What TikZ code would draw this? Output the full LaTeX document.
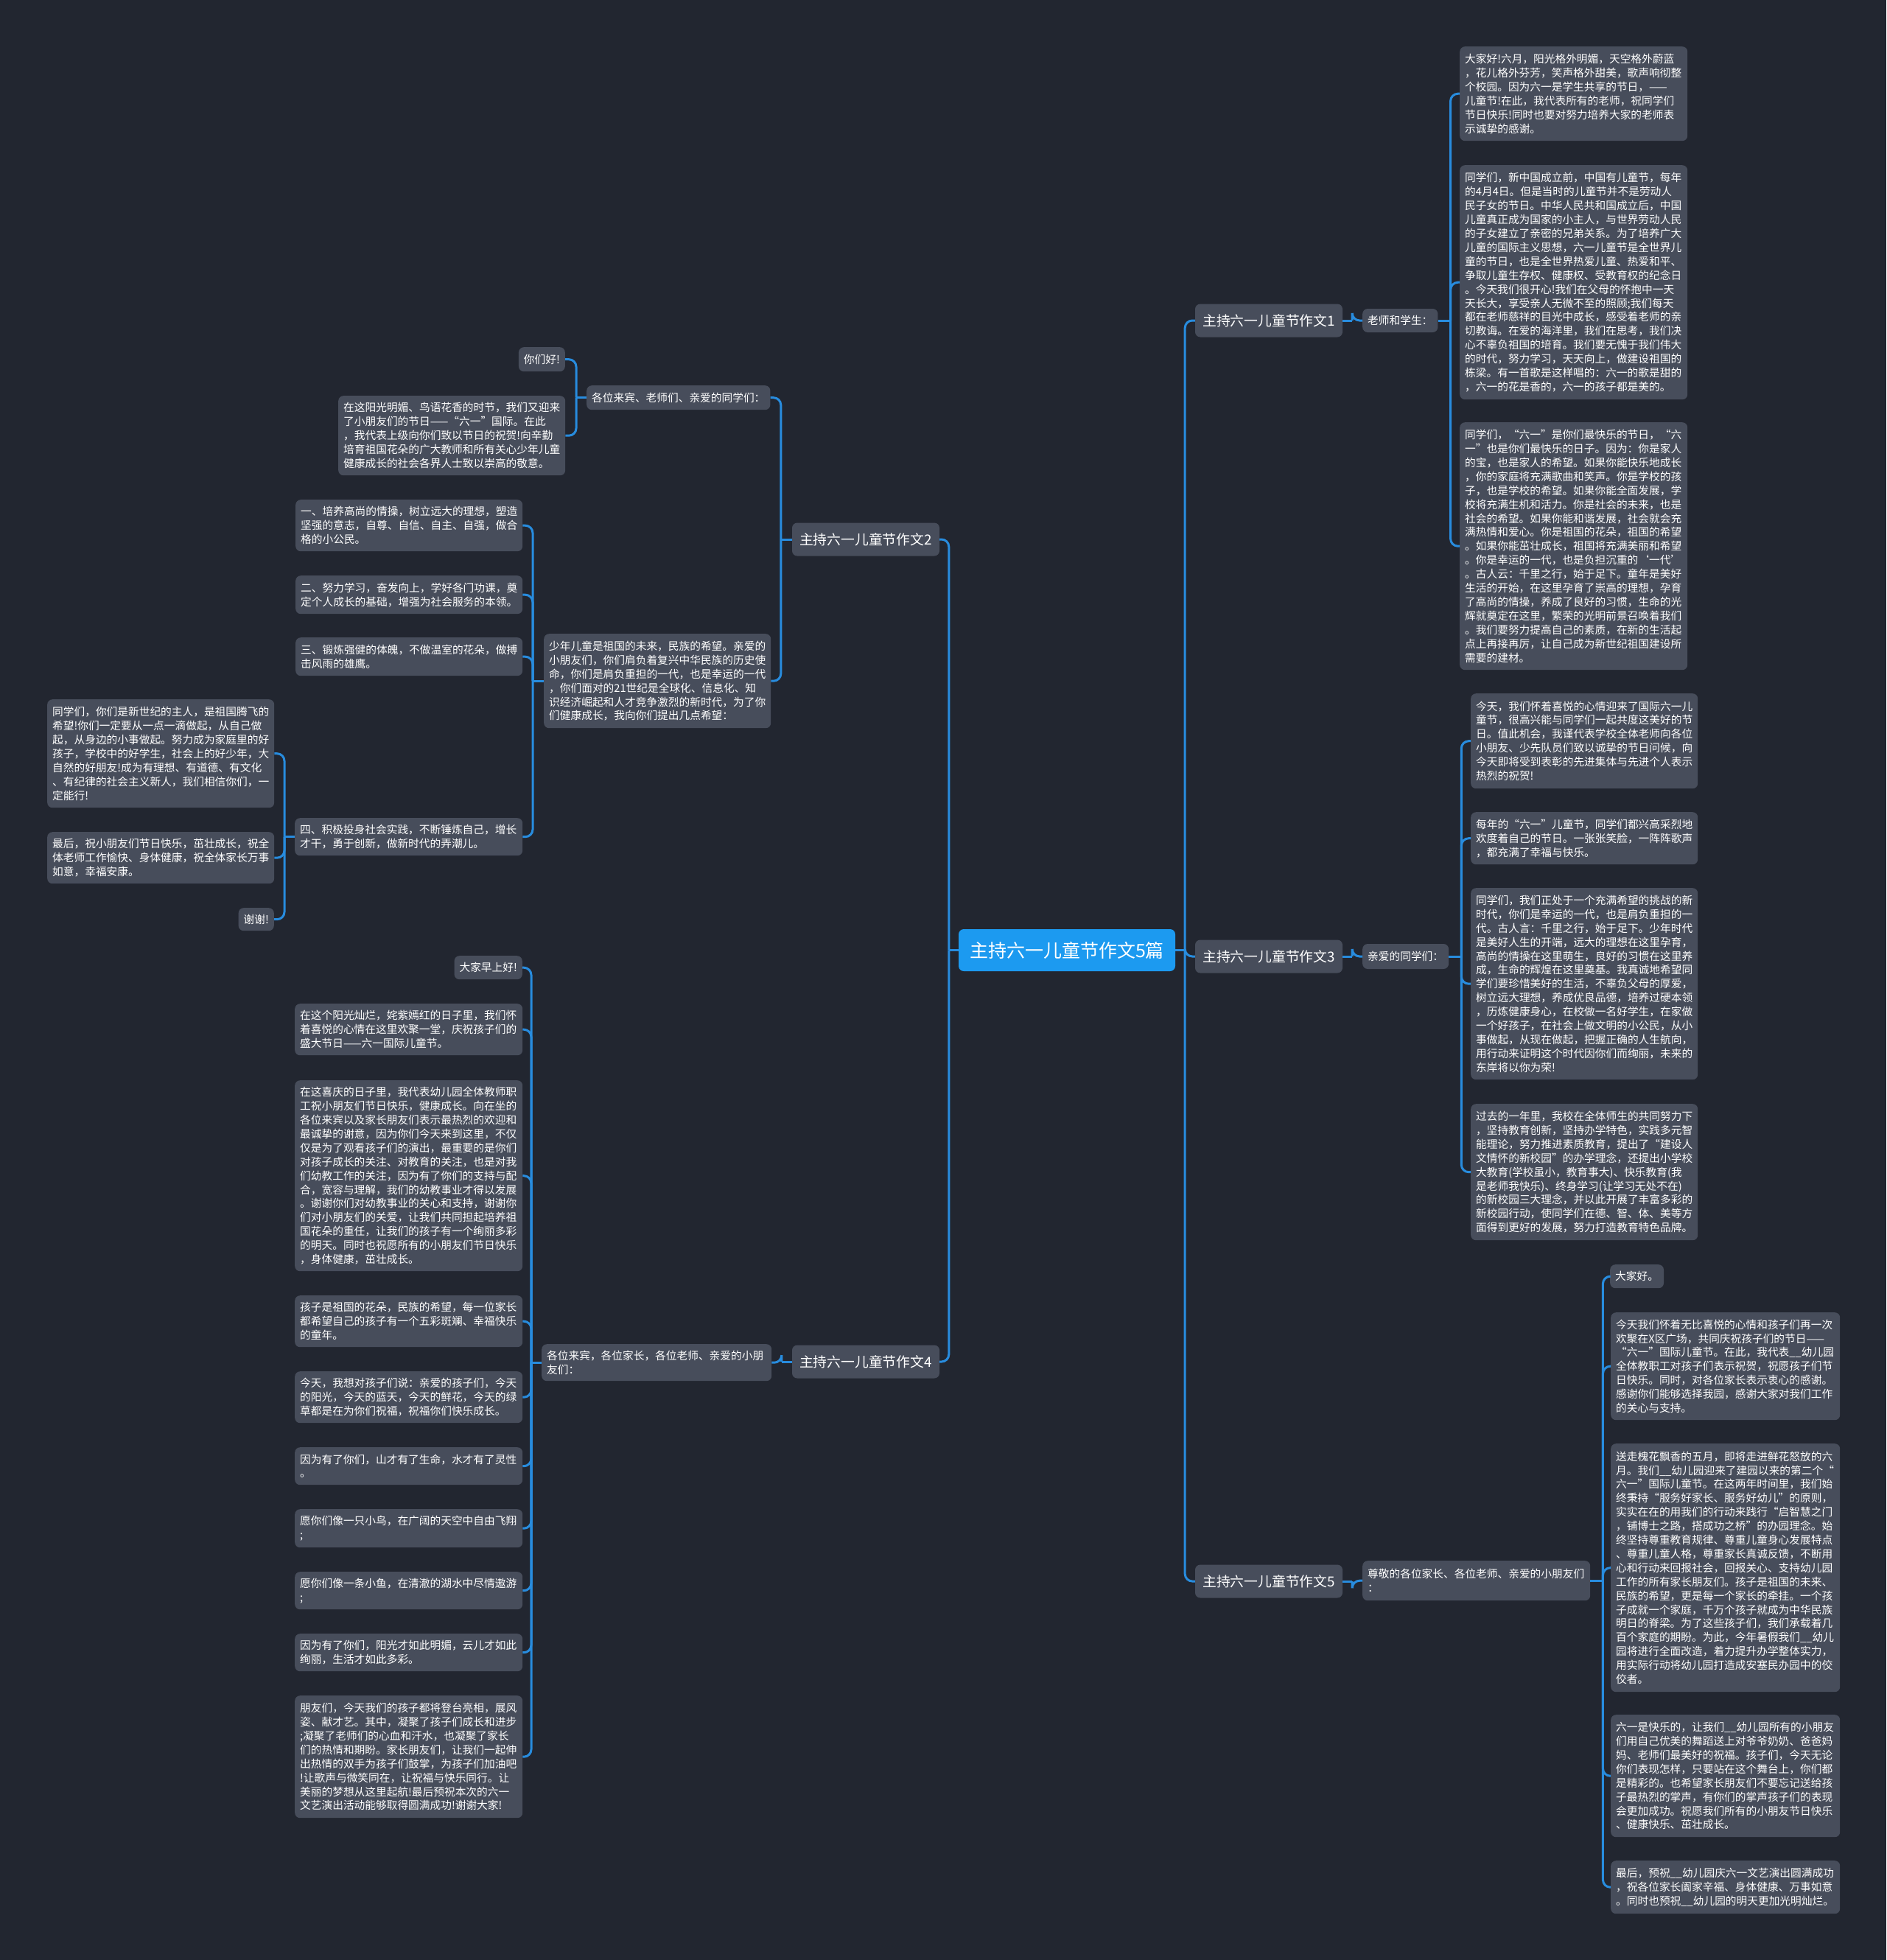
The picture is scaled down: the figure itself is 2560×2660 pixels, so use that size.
\documentclass[tikz,border=0pt]{standalone}
\usepackage{fontspec}
\setmainfont{Noto Sans CJK SC}
\definecolor{bg}{RGB}{34,38,48}
\definecolor{boxc}{RGB}{71,77,91}
\definecolor{linec}{RGB}{40,140,222}
\definecolor{rootc}{RGB}{28,154,240}
\tikzset{
 tbox/.style={fill=boxc, rounded corners=7pt, text=white, align=left, inner xsep=7pt, inner ysep=0pt, font=\fontsize{14.7}{18.9}\selectfont},
 sbox/.style={fill=boxc, rounded corners=7pt, text=white, inner xsep=7pt, inner ysep=0pt, font=\fontsize{14.7}{18.9}\selectfont},
 lone/.style={fill=boxc, rounded corners=7pt, text=white, inner sep=0pt, minimum width=200pt, minimum height=45pt, font=\fontsize{18.8}{22}\selectfont},
 rootbox/.style={fill=rootc, rounded corners=7pt, text=white, inner sep=0pt, minimum width=294pt, minimum height=57pt, font=\fontsize{25}{30}\selectfont},
 conn/.style={draw=linec, line width=3pt},
}
\newcommand\bx[6]{\node[tbox, text width=#4pt, minimum height=#5pt, anchor=north west] (#1) at (#2,#3) {#6};}
\newcommand\conR[3]{\draw[conn] (#1.east) -- ([xshift=#3pt]#1.east); \draw[conn, rounded corners=10pt] ([xshift=#3pt]#1.east) |- (#2.west);}
\newcommand\conL[3]{\draw[conn] (#1.west) -- ([xshift=-#3pt]#1.west); \draw[conn, rounded corners=10pt] ([xshift=-#3pt]#1.west) |- (#2.east);}
\begin{document}
\begin{tikzpicture}[x=1pt,y=-1pt]
\fill[bg] (0,0) rectangle (2560,2660);
\useasboundingbox (0,0) rectangle (2560,2660);

% root and level 1
\node[rootbox] (root) at (1448,1289.5) {主持六一儿童节作文5篇};
\node[lone] (T1) at (1722,435) {主持六一儿童节作文1};
\node[lone] (T2) at (1175,732) {主持六一儿童节作文2};
\node[lone] (T3) at (1722,1298) {主持六一儿童节作文3};
\node[lone] (T4) at (1175,1848) {主持六一儿童节作文4};
\node[lone] (T5) at (1722,2146) {主持六一儿童节作文5};

% ---------- branch 1 ----------
\node[sbox, minimum height=32pt, anchor=west] (S1) at (1849,435) {老师和学生：};
\bx{R1a}{1981}{63}{295}{128}{大家好!六月，阳光格外明媚，天空格外蔚蓝\\，花儿格外芬芳，笑声格外甜美，歌声响彻整\\个校园。因为六一是学生共享的节日，——\\儿童节!在此，我代表所有的老师，祝同学们\\节日快乐!同时也要对努力培养大家的老师表\\示诚挚的感谢。}
\bx{R1b}{1981}{224}{295}{318}{同学们，新中国成立前，中国有儿童节，每年\\的4月4日。但是当时的儿童节并不是劳动人\\民子女的节日。中华人民共和国成立后，中国\\儿童真正成为国家的小主人，与世界劳动人民\\的子女建立了亲密的兄弟关系。为了培养广大\\儿童的国际主义思想，六一儿童节是全世界儿\\童的节日，也是全世界热爱儿童、热爱和平、\\争取儿童生存权、健康权、受教育权的纪念日\\。今天我们很开心!我们在父母的怀抱中一天\\天长大，享受亲人无微不至的照顾;我们每天\\都在老师慈祥的目光中成长，感受着老师的亲\\切教诲。在爱的海洋里，我们在思考，我们决\\心不辜负祖国的培育。我们要无愧于我们伟大\\的时代，努力学习，天天向上，做建设祖国的\\栋梁。有一首歌是这样唱的：六一的歌是甜的\\，六一的花是香的，六一的孩子都是美的。}
\bx{R1c}{1981}{573}{295}{336}{同学们，“六一”是你们最快乐的节日，“六\\一”也是你们最快乐的日子。因为：你是家人\\的宝，也是家人的希望。如果你能快乐地成长\\，你的家庭将充满歌曲和笑声。你是学校的孩\\子，也是学校的希望。如果你能全面发展，学\\校将充满生机和活力。你是社会的未来，也是\\社会的希望。如果你能和谐发展，社会就会充\\满热情和爱心。你是祖国的花朵，祖国的希望\\。如果你能茁壮成长，祖国将充满美丽和希望\\。你是幸运的一代，也是负担沉重的‘一代’\\。古人云：千里之行，始于足下。童年是美好\\生活的开始，在这里孕育了崇高的理想，孕育\\了高尚的情操，养成了良好的习惯，生命的光\\辉就奠定在这里，繁荣的光明前景召唤着我们\\。我们要努力提高自己的素质，在新的生活起\\点上再接再厉，让自己成为新世纪祖国建设所\\需要的建材。}

% ---------- branch 3 ----------
\node[sbox, minimum height=34pt, anchor=west] (S3) at (1849,1298) {亲爱的同学们：};
\bx{R3a}{1996}{941}{294}{129}{今天，我们怀着喜悦的心情迎来了国际六一儿\\童节，很高兴能与同学们一起共度这美好的节\\日。值此机会，我谨代表学校全体老师向各位\\小朋友、少先队员们致以诚挚的节日问候，向\\今天即将受到表彰的先进集体与先进个人表示\\热烈的祝贺!}
\bx{R3b}{1996}{1102}{294}{71}{每年的“六一”儿童节，同学们都兴高采烈地\\欢度着自己的节日。一张张笑脸，一阵阵歌声\\，都充满了幸福与快乐。}
\bx{R3c}{1996}{1205}{294}{260}{同学们，我们正处于一个充满希望的挑战的新\\时代，你们是幸运的一代，也是肩负重担的一\\代。古人言：千里之行，始于足下。少年时代\\是美好人生的开端，远大的理想在这里孕育，\\高尚的情操在这里萌生，良好的习惯在这里养\\成，生命的辉煌在这里奠基。我真诚地希望同\\学们要珍惜美好的生活，不辜负父母的厚爱，\\树立远大理想，养成优良品德，培养过硬本领\\，历炼健康身心，在校做一名好学生，在家做\\一个好孩子，在社会上做文明的小公民，从小\\事做起，从现在做起，把握正确的人生航向，\\用行动来证明这个时代因你们而绚丽，未来的\\东岸将以你为荣!}
\bx{R3d}{1996}{1498}{294}{185}{过去的一年里，我校在全体师生的共同努力下\\，坚持教育创新，坚持办学特色，实践多元智\\能理论，努力推进素质教育，提出了“建设人\\文情怀的新校园”的办学理念，还提出小学校\\大教育(学校虽小，教育事大)、快乐教育(我\\是老师我快乐)、终身学习(让学习无处不在)\\的新校园三大理念，并以此开展了丰富多彩的\\新校园行动，使同学们在德、智、体、美等方\\面得到更好的发展，努力打造教育特色品牌。}

% ---------- branch 5 ----------
\bx{S5}{1849}{2118}{295}{54}{尊敬的各位家长、各位老师、亲爱的小朋友们\\：}
\node[sbox, minimum height=32pt, anchor=north west] (R5a) at (2185,1716) {大家好。};
\bx{R5b}{2186}{1781}{297}{146}{今天我们怀着无比喜悦的心情和孩子们再一次\\欢聚在X区广场，共同庆祝孩子们的节日——\\“六一”国际儿童节。在此，我代表\_\_幼儿园\\全体教职工对孩子们表示祝贺，祝愿孩子们节\\日快乐。同时，对各位家长表示衷心的感谢。\\感谢你们能够选择我园，感谢大家对我们工作\\的关心与支持。}
\bx{R5c}{2186}{1959}{297}{337}{送走槐花飘香的五月，即将走进鲜花怒放的六\\月。我们\_\_幼儿园迎来了建园以来的第二个“\\六一”国际儿童节。在这两年时间里，我们始\\终秉持“服务好家长、服务好幼儿”的原则，\\实实在在的用我们的行动来践行“启智慧之门\\，铺博士之路，搭成功之桥”的办园理念。始\\终坚持尊重教育规律、尊重儿童身心发展特点\\、尊重儿童人格，尊重家长真诚反馈，不断用\\心和行动来回报社会，回报关心、支持幼儿园\\工作的所有家长朋友们。孩子是祖国的未来、\\民族的希望，更是每一个家长的牵挂。一个孩\\子成就一个家庭，千万个孩子就成为中华民族\\明日的脊梁。为了这些孩子们，我们承载着几\\百个家庭的期盼。为此，今年暑假我们\_\_幼儿\\园将进行全面改造，着力提升办学整体实力，\\用实际行动将幼儿园打造成安塞民办园中的佼\\佼者。}
\bx{R5d}{2186}{2327}{297}{166}{六一是快乐的，让我们\_\_幼儿园所有的小朋友\\们用自己优美的舞蹈送上对爷爷奶奶、爸爸妈\\妈、老师们最美好的祝福。孩子们，今天无论\\你们表现怎样，只要站在这个舞台上，你们都\\是精彩的。也希望家长朋友们不要忘记送给孩\\子最热烈的掌声，有你们的掌声孩子们的表现\\会更加成功。祝愿我们所有的小朋友节日快乐\\、健康快乐、茁壮成长。}
\bx{R5e}{2186}{2525}{297}{72}{最后，预祝\_\_幼儿园庆六一文艺演出圆满成功\\，祝各位家长阖家辛福、身体健康、万事如意\\。同时也预祝\_\_幼儿园的明天更加光明灿烂。}

% ---------- branch 2 ----------
\node[sbox, minimum height=33pt, anchor=north west] (Lg) at (796,523) {各位来宾、老师们、亲爱的同学们：};
\node[sbox, minimum height=33pt, anchor=north east] (Lh) at (767,471) {你们好!};
\bx{Ls}{459}{537}{294}{108}{在这阳光明媚、鸟语花香的时节，我们又迎来\\了小朋友们的节日——“六一”国际。在此\\，我代表上级向你们致以节日的祝贺!向辛勤\\培育祖国花朵的广大教师和所有关心少年儿童\\健康成长的社会各界人士致以崇高的敬意。}
\bx{Lk}{738}{860}{294}{128}{少年儿童是祖国的未来，民族的希望。亲爱的\\小朋友们，你们肩负着复兴中华民族的历史使\\命，你们是肩负重担的一代，也是幸运的一代\\，你们面对的21世纪是全球化、信息化、知\\识经济崛起和人才竞争激烈的新时代，为了你\\们健康成长，我向你们提出几点希望：}
\bx{L1}{401}{678}{294}{70}{一、培养高尚的情操，树立远大的理想，塑造\\坚强的意志，自尊、自信、自主、自强，做合\\格的小公民。}
\bx{L2}{401}{781}{294}{52}{二、努力学习，奋发向上，学好各门功课，奠\\定个人成长的基础，增强为社会服务的本领。}
\bx{L3}{401}{865}{294}{52}{三、锻炼强健的体魄，不做温室的花朵，做搏\\击风雨的雄鹰。}
\bx{L4}{400}{1110}{295}{51}{四、积极投身社会实践，不断锤炼自己，增长\\才干，勇于创新，做新时代的弄潮儿。}
\bx{L4a}{64}{949}{294}{147}{同学们，你们是新世纪的主人，是祖国腾飞的\\希望!你们一定要从一点一滴做起，从自己做\\起，从身边的小事做起。努力成为家庭里的好\\孩子，学校中的好学生，社会上的好少年，大\\自然的好朋友!成为有理想、有道德、有文化\\、有纪律的社会主义新人，我们相信你们，一\\定能行!}
\bx{L4b}{64}{1129}{294}{70}{最后，祝小朋友们节日快乐，茁壮成长，祝全\\体老师工作愉快、身体健康，祝全体家长万事\\如意，幸福安康。}
\node[sbox, minimum height=31pt, anchor=north east] (L4c) at (372,1232) {谢谢!};

% ---------- branch 4 ----------
\bx{Mg}{735}{1824}{298}{50}{各位来宾，各位家长，各位老师、亲爱的小朋\\友们：}
\node[sbox, minimum height=32pt, anchor=north east] (M0) at (709,1297) {大家早上好!};
\bx{M1}{400}{1362}{295}{70}{在这个阳光灿烂，姹紫嫣红的日子里，我们怀\\着喜悦的心情在这里欢聚一堂，庆祝孩子们的\\盛大节日——六一国际儿童节。}
\bx{M2}{400}{1466}{295}{259}{在这喜庆的日子里，我代表幼儿园全体教师职\\工祝小朋友们节日快乐，健康成长。向在坐的\\各位来宾以及家长朋友们表示最热烈的欢迎和\\最诚挚的谢意，因为你们今天来到这里，不仅\\仅是为了观看孩子们的演出，最重要的是你们\\对孩子成长的关注、对教育的关注，也是对我\\们幼教工作的关注，因为有了你们的支持与配\\合，宽容与理解，我们的幼教事业才得以发展\\。谢谢你们对幼教事业的关心和支持，谢谢你\\们对小朋友们的关爱，让我们共同担起培养祖\\国花朵的重任，让我们的孩子有一个绚丽多彩\\的明天。同时也祝愿所有的小朋友们节日快乐\\，身体健康，茁壮成长。}
\bx{M3}{400}{1758}{295}{70}{孩子是祖国的花朵，民族的希望，每一位家长\\都希望自己的孩子有一个五彩斑斓、幸福快乐\\的童年。}
\bx{M4}{400}{1861}{295}{70}{今天，我想对孩子们说：亲爱的孩子们，今天\\的阳光，今天的蓝天，今天的鲜花，今天的绿\\草都是在为你们祝福，祝福你们快乐成长。}
\bx{M5}{400}{1964}{295}{51}{因为有了你们，山才有了生命，水才有了灵性\\。}
\bx{M6}{400}{2048}{295}{52}{愿你们像一只小鸟，在广阔的天空中自由飞翔\\;}
\bx{M7}{400}{2133}{295}{51}{愿你们像一条小鱼，在清澈的湖水中尽情遨游\\;}
\bx{M8}{400}{2217}{295}{51}{因为有了你们，阳光才如此明媚，云儿才如此\\绚丽，生活才如此多彩。}
\bx{M9}{400}{2301}{295}{166}{朋友们，今天我们的孩子都将登台亮相，展风\\姿、献才艺。其中，凝聚了孩子们成长和进步\\;凝聚了老师们的心血和汗水，也凝聚了家长\\们的热情和期盼。家长朋友们，让我们一起伸\\出热情的双手为孩子们鼓掌，为孩子们加油吧\\!让歌声与微笑同在，让祝福与快乐同行。让\\美丽的梦想从这里起航!最后预祝本次的六一\\文艺演出活动能够取得圆满成功!谢谢大家!}

% ---------- connectors ----------
\conR{root}{T1}{13} \conR{root}{T3}{13} \conR{root}{T5}{13}
\conL{root}{T2}{13} \conL{root}{T4}{13}
\conR{T1}{S1}{13} \conR{T3}{S3}{13} \conR{T5}{S5}{13}
\conR{S1}{R1a}{17} \conR{S1}{R1b}{17} \conR{S1}{R1c}{17}
\conR{S3}{R3a}{17} \conR{S3}{R3b}{17} \conR{S3}{R3c}{17} \conR{S3}{R3d}{17}
\conR{S5}{R5a}{17} \conR{S5}{R5b}{17} \conR{S5}{R5c}{17} \conR{S5}{R5d}{17} \conR{S5}{R5e}{17}
\conL{T2}{Lg}{15} \conL{T2}{Lk}{15}
\conL{Lg}{Lh}{14} \conL{Lg}{Ls}{14}
\conL{Lk}{L1}{15} \conL{Lk}{L2}{15} \conL{Lk}{L3}{15} \conL{Lk}{L4}{15}
\conL{L4}{L4a}{14} \conL{L4}{L4b}{14} \conL{L4}{L4c}{14}
\conL{T4}{Mg}{14}
\conL{Mg}{M0}{14} \conL{Mg}{M1}{14} \conL{Mg}{M2}{14} \conL{Mg}{M3}{14} \conL{Mg}{M4}{14}
\conL{Mg}{M5}{14} \conL{Mg}{M6}{14} \conL{Mg}{M7}{14} \conL{Mg}{M8}{14} \conL{Mg}{M9}{14}
\end{tikzpicture}
\end{document}
